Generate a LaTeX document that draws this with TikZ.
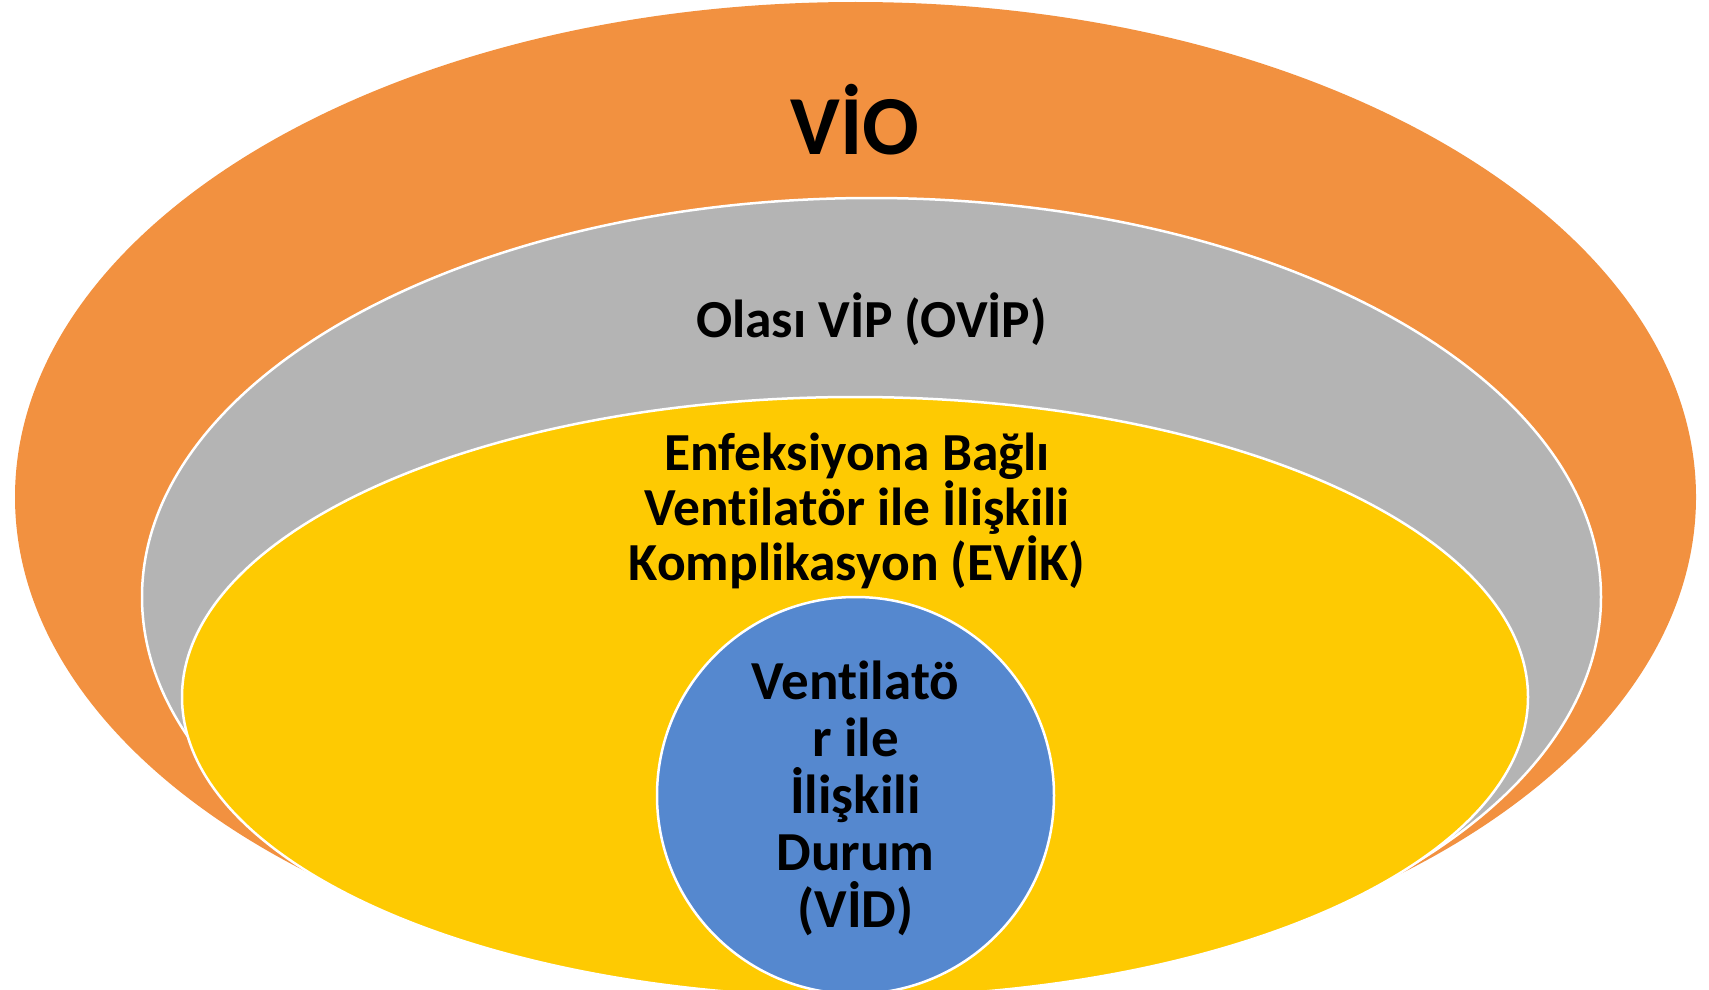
\documentclass[tikz,border=0pt]{standalone}
\usepackage{fontspec}
\setmainfont{Carlito}[Ligatures=NoCommon]
\usetikzlibrary{shapes.geometric}
\definecolor{vioorange}{RGB}{242,145,64}
\definecolor{viogray}{RGB}{180,180,180}
\definecolor{vioyellow}{RGB}{254,202,2}
\definecolor{vioblue}{RGB}{85,136,207}
\begin{document}
\begin{tikzpicture}[x=1pt,y=-1pt,
  ring/.style={ellipse, draw=white, line width=2.5pt, inner sep=0pt},
  lbl/.style={font=\bfseries\fontsize{53.5}{55}\selectfont, align=center, inner sep=0pt, text=black}]
\useasboundingbox (0,0) rectangle (1709,990);
\clip (0,0) rectangle (1709,990);
\node[ring, fill=vioorange, draw=none, minimum width=1681pt, minimum height=990pt] (vio) at (855.5,497) {};
\node[ring, fill=viogray, minimum width=1459pt, minimum height=798pt] (ovip) at (871.5,597) {};
\node[ring, fill=vioyellow, minimum width=1346pt, minimum height=600pt] (evik) at (855,697) {};
\node[circle, draw=white, line width=2.5pt, fill=vioblue, minimum size=397pt, inner sep=0pt] (vid) at (855.5,795.5) {};
\node[lbl, font=\bfseries\fontsize{55}{57}\selectfont, anchor=base] (vidt) at (855.5,927) {Ventilatö\\r ile\\İlişkili\\Durum\\(VİD)};
\node[lbl, font=\bfseries\fontsize{84}{90}\selectfont, anchor=base] (viot) at (855,154) {VİO};
\node[lbl, anchor=base] (ovipt) at (871.5,337) {Olası VİP (OVİP)};
\node[lbl, anchor=base] (evikt) at (857,580) {Enfeksiyona Bağlı\\Ventilatör ile İlişkili\\Komplikasyon (EVİK)};
\end{tikzpicture}
\end{document}
